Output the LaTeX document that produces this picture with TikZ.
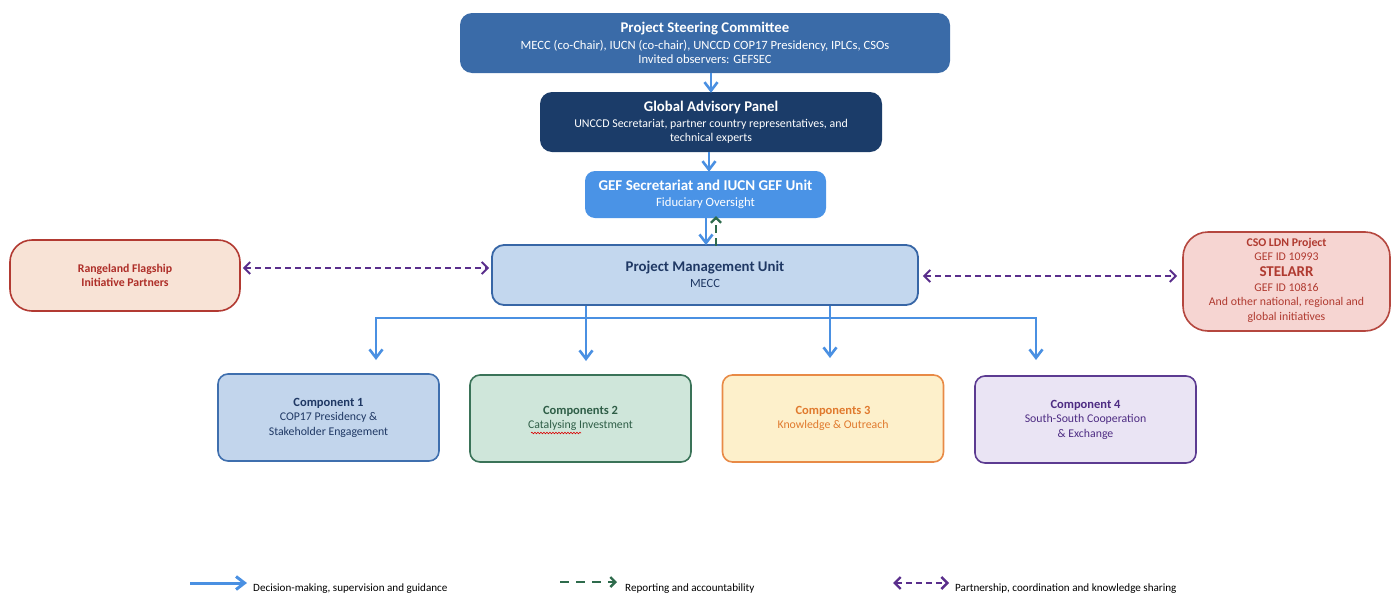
\documentclass[tikz,border=0pt]{standalone}
\usepackage{fontspec}
\setmainfont{Carlito}
\usetikzlibrary{arrows.meta,decorations.pathmorphing}
\definecolor{pscfill}{HTML}{3A6BA8}
\definecolor{gapfill}{HTML}{1B3C69}
\definecolor{geffill}{HTML}{4A93E6}
\definecolor{pmufill}{HTML}{C3D7EE}
\definecolor{pmudraw}{HTML}{3766A6}
\definecolor{navy}{HTML}{1F3864}
\definecolor{rfifill}{HTML}{F8E3D6}
\definecolor{rfidraw}{HTML}{B23A32}
\definecolor{rfitext}{HTML}{AE2E28}
\definecolor{csofill}{HTML}{F6D5D2}
\definecolor{csodraw}{HTML}{B5473F}
\definecolor{csotext}{HTML}{B03A30}
\definecolor{conefill}{HTML}{C2D5EC}
\definecolor{conedraw}{HTML}{3F6FAE}
\definecolor{ctwofill}{HTML}{CFE6DA}
\definecolor{ctwodraw}{HTML}{3A7358}
\definecolor{ctwotext}{HTML}{2F5E47}
\definecolor{cthreefill}{HTML}{FDF0CB}
\definecolor{cthreedraw}{HTML}{E88A46}
\definecolor{cthreetext}{HTML}{E07A2E}
\definecolor{cfourfill}{HTML}{EAE4F4}
\definecolor{cfourdraw}{HTML}{5C3B91}
\definecolor{cfourtext}{HTML}{4E2C83}
\definecolor{decblue}{HTML}{4A90E2}
\definecolor{repgreen}{HTML}{2E6B4C}
\definecolor{partpurple}{HTML}{5A2E8C}
\newcommand{\fsz}[2]{\fontsize{#1}{#2}\selectfont}
\tikzset{
  boxbase/.style={inner sep=0pt, align=center, rounded corners=#1},
  boxbase/.default=12pt,
  topbox/.style={boxbase, fill=#1, text=white},
  decline/.style={draw=decblue, line width=2.6pt, -{Straight Barb[length=8.5pt,width=13pt]}},
  repline/.style={draw=repgreen, line width=2.2pt, dash pattern=on 8pt off 5pt, -{Straight Barb[length=5pt,width=10pt]}},
  partline/.style={draw=partpurple, line width=2pt, dash pattern=on 6pt off 4pt, {Straight Barb[length=6pt,width=12pt]}-{Straight Barb[length=6pt,width=12pt]}},
  compbox/.style={boxbase=10pt, line width=1.6pt, minimum width=221pt, minimum height=87pt, font=\fsz{11.8}{14.5}},
}
\begin{document}
\begin{tikzpicture}[x=1pt,y=-1pt]
\useasboundingbox (0,0) rectangle (1394,592);
% top chain
\node (psc) [topbox=pscfill, minimum width=490pt, minimum height=60pt, font=\fsz{12.6}{14.5}] at (705,43)
  {{\fsz{14.8}{14.5}\bfseries Project Steering Committee}\\[2.5pt]
   MECC (co-Chair), IUCN (co-chair), UNCCD COP17 Presidency, IPLCs, CSOs\\
   Invited observers: GEFSEC};
\node (gap) [topbox=gapfill, minimum width=342pt, minimum height=60pt, font=\fsz{11.9}{14}] at (711,122)
  {{\fsz{14.8}{14}\bfseries Global Advisory Panel}\\[2pt]
   UNCCD Secretariat, partner country representatives, and\\
   technical experts};
\node (gef) [topbox=geffill, boxbase=10pt, minimum width=241pt, minimum height=47pt, font=\fsz{12.7}{14}] at (705.5,194.5)
  {{\fsz{15}{14}\bfseries GEF Secretariat and IUCN GEF Unit}\\[2pt]
   Fiduciary Oversight};
\node (pmu) [boxbase, fill=pmufill, draw=pmudraw, line width=1.8pt, text=navy, minimum width=426pt, minimum height=60pt, font=\fsz{12.5}{14}] at (705,275)
  {{\fsz{14.8}{14}\bfseries Project Management Unit}\\[2pt]
   MECC\rule[-2pt]{0pt}{1pt}};
% side partners
\node (rfi) [boxbase=22pt, fill=rfifill, draw=rfidraw, line width=1.6pt, text=rfitext, minimum width=230pt, minimum height=71pt, font=\fsz{11.8}{14}\bfseries] at (125,275.5)
  {Rangeland Flagship\\ Initiative Partners};
\node (cso) [boxbase=25pt, fill=csofill, draw=csodraw, line width=1.6pt, text=csotext, minimum width=207pt, minimum height=99pt, font=\fsz{11.8}{14.8}] at (1286.5,281.5)
  {{\fsz{11.8}{14}\bfseries CSO LDN Project}\\[-0.8pt]
   GEF ID 10993\\[1pt]
   {\fsz{15}{14}\bfseries STELARR}\\
   GEF ID 10816\\
   And other national, regional and\\
   global initiatives\rule[-4pt]{0pt}{1pt}};
% components
\node (c1) [compbox, fill=conefill, draw=conedraw, text=navy] at (328.5,417.5)
  {{\fsz{12.5}{14.5}\bfseries Component 1}\\
   COP17 Presidency \&\\
   Stakeholder Engagement};
\node (c2) [compbox, fill=ctwofill, draw=ctwodraw, text=ctwotext] at (580.5,418.5)
  {{\fsz{12.5}{14.5}\bfseries Components 2}\\
   Catalysing Investment};
\node (c3) [compbox, fill=cthreefill, draw=cthreedraw, text=cthreetext] at (833,418.5)
  {{\fsz{12.5}{14.5}\bfseries Components 3}\\
   Knowledge \& Outreach};
\node (c4) [compbox, fill=cfourfill, draw=cfourdraw, text=cfourtext] at (1085.5,419.5)
  {{\fsz{12.5}{14.5}\bfseries Component 4}\\
   South-South Cooperation\\
   \& Exchange};
% spell-check squiggle under "Catalysing"
\draw[red!85!black, line width=0.6pt, decorate, decoration={snake, amplitude=0.8pt, segment length=3pt}] (531,433) -- (581,433);
% vertical connectors
\coordinate (k1) at (711,0);
\coordinate (k2) at (709,0);
\coordinate (k3) at (706,0);
\coordinate (k4) at (716,0);
\draw[decline] (psc.south -| k1) -- ([yshift=-1pt]gap.north -| k1);
\draw[decline] (gap.south -| k2) -- ([yshift=-1pt]gef.north -| k2);
\draw[decline] (gef.south -| k3) -- ([yshift=-1pt]pmu.north -| k3);
\draw[repline] ([yshift=-2pt]pmu.north -| k4) -- ([yshift=2pt]gef.south -| k4);
% partnership
\coordinate (r1) at (0,268);
\coordinate (r2) at (0,276);
\draw[partline] ([xshift=2pt]rfi.east |- r1) -- ([xshift=-2pt]pmu.west |- r1);
\draw[partline] ([xshift=4pt]pmu.east |- r2) -- ([xshift=-5pt]cso.west |- r2);
% bus to components
\coordinate (x1) at (376,318);
\coordinate (x2) at (586,318);
\coordinate (x3) at (830,318);
\coordinate (x4) at (1036,318);
\coordinate (a1) at (376,360);
\coordinate (a2) at (586,361);
\coordinate (a3) at (830,358);
\coordinate (a4) at (1036,360);
\draw[decline, {Straight Barb[length=8.5pt,width=13pt]}-{Straight Barb[length=8.5pt,width=13pt]}, line join=miter] (a1) -- (x1) -- (x4) -- (a4);
\draw[decline] (pmu.south -| x2) -- (a2);
\draw[decline] (pmu.south -| x3) -- (a3);
% legend
\node (l1) [anchor=base west, inner sep=0pt, font=\fsz{11.1}{12}] at (253,591) {Decision-making, supervision and guidance};
\node (l2) [anchor=base west, inner sep=0pt, font=\fsz{11.1}{12}] at (625,591) {Reporting and accountability};
\node (l3) [anchor=base west, inner sep=0pt, font=\fsz{11.1}{12}] at (955,591) {Partnership, coordination and knowledge sharing};
\coordinate (s1) at (190,583);
\coordinate (s2) at (560,582);
\coordinate (s3) at (893,583);
\draw[decline, line width=3pt] (s1) -- ([xshift=-6pt]l1.west |- s1);
\draw[repline, dash pattern=on 9pt off 7pt, line width=2.4pt] (s2) -- ([xshift=-8pt]l2.west |- s2);
\draw[partline, line width=2.4pt] (s3) -- ([xshift=-6pt]l3.west |- s3);
\end{tikzpicture}
\end{document}
